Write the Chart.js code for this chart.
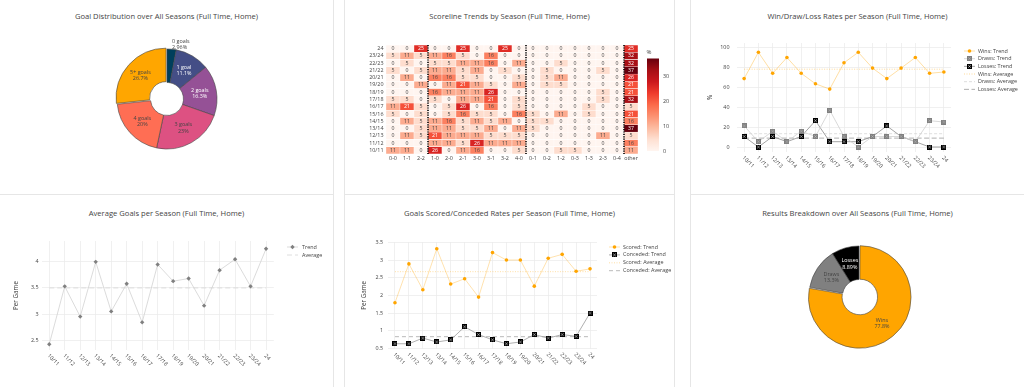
<!DOCTYPE html>
<html>
<head>
<meta charset="utf-8">
<script src="https://cdn.jsdelivr.net/npm/chart.js@4.4.1/dist/chart.umd.min.js"></script>
<style>
  body { margin: 0; background: #fff; font-family: "Open Sans", sans-serif; }
  #page { position: relative; width: 1024px; height: 387px; overflow: hidden; }
  .card { position: absolute; border: 1px solid #e6e6e6; box-sizing: border-box; }
  .ttl { position: absolute; text-align: center; font-size: 7.6px; line-height: 10px; color: #444; white-space: nowrap; }
  canvas { position: absolute; }
</style>
</head>
<body>
<div id="page">
  <div class="card" style="left:-1px;top:-1px;width:335px;height:196px"></div>
  <div class="card" style="left:344px;top:-1px;width:331px;height:196px"></div>
  <div class="card" style="left:690px;top:-1px;width:336px;height:196px"></div>
  <div class="card" style="left:-1px;top:194px;width:335px;height:195px"></div>
  <div class="card" style="left:344px;top:194px;width:331px;height:195px"></div>
  <div class="card" style="left:690px;top:194px;width:336px;height:195px"></div>

  <div class="ttl" style="left:0;width:333px;top:11px">Goal Distribution over All Seasons (Full Time, Home)</div>
  <div class="ttl" style="left:345px;width:329px;top:11px">Scoreline Trends by Season (Full Time, Home)</div>
  <div class="ttl" style="left:691px;width:333px;top:11px">Win/Draw/Loss Rates per Season (Full Time, Home)</div>
  <div class="ttl" style="left:0;width:333px;top:208px">Average Goals per Season (Full Time, Home)</div>
  <div class="ttl" style="left:345px;width:329px;top:208px">Goals Scored/Conceded Rates per Season (Full Time, Home)</div>
  <div class="ttl" style="left:691px;width:333px;top:208px">Results Breakdown over All Seasons (Full Time, Home)</div>

  <canvas id="goalPie" width="333" height="193" style="left:0;top:0"></canvas>
  <canvas id="scoreHeat" width="329" height="193" style="left:345px;top:0"></canvas>
  <canvas id="wdlChart" width="333" height="193" style="left:691px;top:0"></canvas>
  <canvas id="avgChart" width="333" height="192" style="left:0;top:195px"></canvas>
  <canvas id="gsgcChart" width="329" height="192" style="left:345px;top:195px"></canvas>
  <canvas id="resultPie" width="333" height="192" style="left:691px;top:195px"></canvas>
</div>

<script>
// === Data ===
const seasons = ['10/11', '11/12', '12/13', '13/14', '14/15', '15/16', '16/17', '17/18',
                 '18/19', '19/20', '20/21', '21/22', '22/23', '23/24', '24'];

const goalLabels = ['0 goals', '1 goal', '2 goals', '3 goals', '4 goals', '5+ goals'];
const goalCounts = [8, 30, 44, 62, 54, 72];

const resultLabels = ['Wins', 'Draws', 'Losses'];
const resultCounts = [210, 36, 24];

const winPct  = [68.4, 94.7, 73.7, 89.5, 73.7, 63.2, 57.9, 84.2, 94.7, 78.9, 68.4, 78.9, 89.5, 73.7, 75];
const drawPct = [21.1, 5.3, 15.8, 5.3, 15.8, 10.5, 36.8, 10.5, 0, 10.5, 10.5, 10.5, 5.3, 26.3, 25];
const lossPct = [10.5, 0, 10.5, 5.3, 10.5, 26.3, 5.3, 5.3, 5.3, 10.5, 21.1, 10.5, 5.3, 0, 0];
const winAvg = 77.8, drawAvg = 13.3, lossAvg = 8.89;

const avgGoals = [2.42, 3.53, 2.95, 4.0, 3.05, 3.58, 2.84, 3.95, 3.63, 3.68, 3.16, 3.84, 4.05, 3.53, 4.25];
const avgGoalsMean = 3.5;

const scored   = [1.79, 2.89, 2.16, 3.32, 2.32, 2.47, 1.95, 3.21, 3.0, 3.0, 2.26, 3.05, 3.16, 2.68, 2.75];
const conceded = [0.63, 0.63, 0.79, 0.68, 0.74, 1.11, 0.89, 0.74, 0.63, 0.68, 0.89, 0.79, 0.89, 0.84, 1.5];
const scoredAvg = 2.67, concededAvg = 0.83;

const scoreCols = ['0-0', '1-1', '2-2', '1-0', '2-0', '2-1', '3-0', '3-1', '3-2', '4-0',
                   '0-1', '0-2', '1-2', '0-3', '1-3', '2-3', '0-4', 'other'];
// % of home games per scoreline, one row per season (same order as seasons)
const scorePct = [
  [11, 11, 0, 26, 0, 11, 16, 0, 0, 5, 0, 0, 5, 5, 0, 0, 0, 11],
  [0, 0, 0, 11, 11, 5, 26, 11, 11, 11, 0, 0, 0, 0, 0, 0, 0, 16],
  [0, 11, 5, 21, 11, 11, 11, 5, 5, 5, 0, 0, 0, 0, 0, 11, 0, 5],
  [0, 0, 5, 11, 11, 5, 5, 11, 0, 11, 5, 0, 0, 0, 0, 0, 0, 37],
  [0, 11, 5, 11, 16, 5, 11, 5, 11, 0, 5, 5, 0, 0, 0, 0, 0, 16],
  [5, 0, 5, 0, 5, 16, 5, 5, 0, 16, 5, 0, 11, 0, 5, 0, 0, 21],
  [11, 21, 5, 0, 5, 26, 0, 16, 0, 5, 0, 0, 0, 0, 5, 0, 0, 5],
  [5, 5, 0, 5, 0, 11, 11, 21, 0, 5, 0, 0, 0, 0, 0, 5, 0, 32],
  [0, 0, 0, 16, 11, 11, 11, 26, 0, 0, 0, 0, 0, 0, 0, 5, 0, 21],
  [0, 0, 11, 0, 11, 21, 11, 5, 0, 11, 0, 5, 5, 0, 0, 0, 0, 21],
  [0, 11, 0, 16, 16, 5, 5, 0, 0, 5, 0, 5, 11, 0, 0, 0, 0, 26],
  [5, 0, 5, 11, 11, 5, 11, 0, 5, 0, 0, 5, 0, 0, 0, 5, 0, 37],
  [0, 5, 0, 5, 5, 11, 11, 16, 0, 11, 0, 0, 5, 0, 0, 0, 0, 32],
  [5, 11, 5, 11, 16, 5, 0, 16, 0, 0, 0, 0, 0, 0, 0, 0, 0, 32],
  [0, 0, 25, 0, 0, 25, 0, 0, 25, 0, 0, 0, 0, 0, 0, 0, 0, 25]
];
const colorbarTicks = [0, 10, 20, 30];
const groupBreaks = [2, 9, 16];   // dotted line after these columns

// === Styles ===
const FONT = '"Open Sans", sans-serif';
const TXT = '#444';
const GRID = '#ececec';
const goalColors = ['#003f5c', '#444e86', '#955196', '#dd5182', '#ff6e54', '#ffa600'];
const resultColors = ['#ffa500', '#808080', '#000000'];
const reds = ['#fff5f0', '#fee0d2', '#fcbba1', '#fc9272', '#fb6a4a', '#ef3b2c', '#cb181d', '#a50f15', '#67000d'];
const zMax = Math.max(...scorePct.flat());

Chart.defaults.font.family = FONT;
Chart.defaults.color = TXT;

function hexRgb(h) { const n = parseInt(h.slice(1), 16); return [n >> 16, (n >> 8) & 255, n & 255]; }
function redRgb(v) {
  const t = Math.max(0, Math.min(1, v / zMax)) * (reds.length - 1);
  const i = Math.min(Math.floor(t), reds.length - 2), f = t - i;
  const a = hexRgb(reds[i]), b = hexRgb(reds[i + 1]);
  return a.map((x, k) => Math.round(x + (b[k] - x) * f));
}
const rgbStr = c => `rgb(${c[0]},${c[1]},${c[2]})`;
const isDark = c => (c[0] * 299 + c[1] * 587 + c[2] * 114) / 1000 < 128;

// square marker with a thin x through it
function squareX(fill, cross, size) {
  const c = document.createElement('canvas');
  c.width = c.height = size;
  const g = c.getContext('2d');
  g.fillStyle = fill; g.fillRect(0, 0, size, size);
  g.strokeStyle = cross; g.lineWidth = 0.6;
  g.beginPath();
  g.moveTo(1.2, 1.2); g.lineTo(size - 1.2, size - 1.2);
  g.moveTo(size - 1.2, 1.2); g.lineTo(1.2, size - 1.2);
  g.stroke();
  return c;
}
const lossMark = squareX('#000', '#fff', 5);
const drawMark = squareX('#808080', '#bdbdbd', 5);

// === Plugins ===
const sideLegend = {
  id: 'sideLegend',
  afterDraw(chart, args, opts) {
    if (!opts || opts.x == null) return;
    const ctx = chart.ctx;
    chart.data.datasets.forEach((ds, i) => {
      const y = opts.y + i * opts.step;
      ctx.save();
      ctx.strokeStyle = ds.borderColor;
      ctx.lineWidth = ds.borderWidth || 1;
      ctx.setLineDash(ds.borderDash || []);
      ctx.beginPath(); ctx.moveTo(opts.x, y); ctx.lineTo(opts.x + opts.len, y); ctx.stroke();
      ctx.setLineDash([]);
      const mx = opts.x + opts.len / 2;
      if (ds.pointStyle instanceof HTMLCanvasElement) {
        ctx.drawImage(ds.pointStyle, mx - ds.pointStyle.width / 2, y - ds.pointStyle.height / 2);
      } else if (ds.pointRadius) {
        ctx.fillStyle = ds.pointBackgroundColor;
        ctx.strokeStyle = ds.pointBackgroundColor;
        Chart.helpers.drawPoint(ctx, { pointStyle: ds.pointStyle || 'circle', radius: ds.pointRadius, rotation: 0, borderWidth: 0 }, mx, y);
      }
      ctx.fillStyle = TXT;
      ctx.font = '5.4px ' + FONT;
      ctx.textBaseline = 'middle';
      ctx.textAlign = 'left';
      ctx.fillText(ds.label, opts.x + opts.len + opts.gap, y);
      ctx.restore();
    });
  }
};

const slantTicks = {
  id: 'slantTicks',
  afterDraw(chart, args, opts) {
    if (!opts || !opts.on) return;
    const sx = chart.scales.x, ctx = chart.ctx;
    ctx.save();
    ctx.font = '5.4px ' + FONT;
    ctx.fillStyle = TXT;
    ctx.textBaseline = 'middle';
    ctx.textAlign = 'left';
    chart.data.labels.forEach((lab, i) => {
      ctx.save();
      ctx.translate(sx.getPixelForValue(i) + opts.dx, chart.chartArea.bottom + opts.dy);
      ctx.rotate(Math.PI / 4);
      ctx.fillText(lab, 0, 0);
      ctx.restore();
    });
    ctx.restore();
  }
};

const arcText = {
  id: 'arcText',
  afterDatasetsDraw(chart, args, opts) {
    if (!opts || !opts.on) return;
    const ctx = chart.ctx, ds = chart.data.datasets[0];
    const total = ds.data.reduce((a, b) => a + b, 0);
    chart.getDatasetMeta(0).data.forEach((arc, i) => {
      const share = ds.data[i] / total;
      const lines = [chart.data.labels[i], parseFloat((share * 100).toPrecision(3)) + '%'];
      let { x, y } = arc.tooltipPosition();
      let align = 'center';
      let color = isDark(hexRgb(ds.backgroundColor[i])) ? '#fff' : TXT;
      if (share < 0.05) {
        const a = (arc.startAngle + arc.endAngle) / 2;
        x = arc.x + Math.cos(a) * (arc.outerRadius + 4);
        y = arc.y + Math.sin(a) * (arc.outerRadius + 4) - 1;
        align = Math.cos(a) >= 0 ? 'left' : 'right';
        color = TXT;
      }
      ctx.save();
      ctx.font = '5.4px ' + FONT;
      ctx.fillStyle = color;
      ctx.textAlign = align;
      ctx.textBaseline = 'middle';
      ctx.fillText(lines[0], x, y - 3.1);
      ctx.fillText(lines[1], x, y + 3.1);
      ctx.restore();
    });
  }
};

Chart.register(sideLegend, slantTicks, arcText);

// === Doughnuts ===
function pieOptions(pad) {
  return {
    responsive: false, animation: false,
    radius: 50, cutout: '33%',
    layout: { padding: pad },
    plugins: { legend: { display: false }, tooltip: { enabled: false }, arcText: { on: true } }
  };
}

new Chart(document.getElementById('goalPie'), {
  type: 'doughnut',
  data: {
    labels: goalLabels,
    datasets: [{
      data: goalCounts, backgroundColor: goalColors,
      borderColor: '#444', borderWidth: 0.6,
      offset: [0, 0, 0, 0, 0, 5]
    }]
  },
  options: pieOptions({ left: 107, right: 106, top: 39, bottom: 34 })
});

new Chart(document.getElementById('resultPie'), {
  type: 'doughnut',
  data: {
    labels: resultLabels,
    datasets: [{
      data: resultCounts, backgroundColor: resultColors,
      borderColor: '#444', borderWidth: 0.6,
      offset: [5, 0, 0]
    }]
  },
  options: pieOptions({ left: 108, right: 105, top: 41, bottom: 31 })
});

// === Heatmap ===
const heatDeco = {
  id: 'heatDeco',
  afterDatasetsDraw(chart) {
    const ctx = chart.ctx, sx = chart.scales.x, area = chart.chartArea;
    // cell values
    ctx.save();
    ctx.font = '5.2px ' + FONT;
    ctx.textAlign = 'center';
    ctx.textBaseline = 'middle';
    chart.data.datasets.forEach((ds, r) => {
      chart.getDatasetMeta(r).data.forEach((bar, c) => {
        const v = scorePct[r][c];
        ctx.fillStyle = isDark(redRgb(v)) ? '#fff' : TXT;
        ctx.fillText(String(v), bar.x, (bar.y + bar.base) / 2);
      });
    });
    // group separators
    ctx.strokeStyle = '#000';
    ctx.lineWidth = 1.6;
    ctx.setLineDash([1.2, 1.2]);
    groupBreaks.forEach(k => {
      const x = (sx.getPixelForValue(k) + sx.getPixelForValue(k + 1)) / 2;
      ctx.beginPath(); ctx.moveTo(x, area.top); ctx.lineTo(x, area.bottom); ctx.stroke();
    });
    ctx.restore();
  },
  afterDraw(chart, args, opts) {
    const ctx = chart.ctx;
    const { x, w, top, bottom } = opts;
    const g = ctx.createLinearGradient(0, bottom, 0, top);
    reds.forEach((c, i) => g.addColorStop(i / (reds.length - 1), c));
    ctx.save();
    ctx.fillStyle = g;
    ctx.fillRect(x, top, w, bottom - top);
    ctx.fillStyle = TXT;
    ctx.font = '5.4px ' + FONT;
    ctx.textBaseline = 'middle';
    ctx.textAlign = 'left';
    colorbarTicks.forEach(t => {
      ctx.fillText(String(t), x + w + 4, bottom - (bottom - top) * t / zMax);
    });
    ctx.font = '6px ' + FONT;
    ctx.textAlign = 'center';
    ctx.fillText('%', x + 2, top - 6);
    ctx.restore();
  }
};

new Chart(document.getElementById('scoreHeat'), {
  type: 'bar',
  data: {
    labels: scoreCols,
    datasets: seasons.map((s, r) => ({
      label: s,
      data: scoreCols.map(() => 1),
      backgroundColor: scorePct[r].map(v => rgbStr(redRgb(v))),
      borderColor: '#fff', borderWidth: 0.5, borderSkipped: false,
      barPercentage: 1, categoryPercentage: 1
    }))
  },
  options: {
    responsive: false, animation: false,
    layout: { padding: { left: 0, right: 36, top: 45, bottom: 0 } },
    plugins: {
      legend: { display: false }, tooltip: { enabled: false },
      heatDeco: { x: 302, w: 12, top: 58.5, bottom: 151 }
    },
    scales: {
      x: {
        stacked: true,
        grid: { display: false, drawTicks: false }, border: { display: false },
        ticks: { padding: 1.5, maxRotation: 0, autoSkip: false, font: { size: 5.4 } },
        afterFit: s => { s.height = 39; }
      },
      y: {
        stacked: true, min: 0, max: seasons.length,
        grid: { display: false, drawTicks: false }, border: { display: false },
        afterBuildTicks: ax => { ax.ticks = seasons.map((s, i) => ({ value: i + 0.5 })); },
        ticks: { padding: 2.5, autoSkip: false, font: { size: 5.4 }, callback: (v, i) => seasons[i] },
        afterFit: s => { s.width = 41; }
      }
    }
  },
  plugins: [heatDeco]
});

// === Line charts ===
function lineOptions(o) {
  return {
    responsive: false, animation: false,
    layout: { padding: { left: 0, right: o.right, top: o.top, bottom: 0 } },
    plugins: {
      legend: { display: false }, tooltip: { enabled: false },
      sideLegend: o.legend,
      slantTicks: { on: true, dx: -1, dy: 5 }
    },
    scales: {
      x: {
        offset: true,
        grid: { color: GRID, lineWidth: 0.8, drawTicks: false }, border: { display: false },
        ticks: { display: false },
        afterFit: s => { s.height = o.bottom; }
      },
      y: {
        min: o.min, max: o.max,
        grid: { color: GRID, lineWidth: 0.8, drawTicks: false }, border: { display: false },
        ticks: { stepSize: o.step, includeBounds: false, padding: o.pad, font: { size: 5.4 },
                 callback: v => String(+v.toFixed(2)) },
        title: { display: true, text: o.yTitle, font: { size: 6.3 }, padding: { top: o.titlePad, bottom: 0 } },
        afterFit: s => { s.width = o.left; }
      }
    }
  };
}

const first = seasons[0], last = seasons[seasons.length - 1];
const avgLine = v => [{ x: first, y: v }, { x: last, y: v }];

new Chart(document.getElementById('wdlChart'), {
  type: 'line',
  data: {
    labels: seasons,
    datasets: [
      { label: 'Wins: Trend', data: winPct, borderColor: 'rgba(255,165,0,0.45)', borderWidth: 0.8,
        pointRadius: 1.8, pointBackgroundColor: '#ffa500', pointBorderWidth: 0 },
      { label: 'Draws: Trend', data: drawPct, borderColor: '#cfcfcf', borderWidth: 0.8,
        pointStyle: drawMark, pointRadius: 2 },
      { label: 'Losses: Trend', data: lossPct, borderColor: '#8c8c8c', borderWidth: 0.8,
        pointStyle: lossMark, pointRadius: 2 },
      { label: 'Wins: Average', data: avgLine(winAvg), borderColor: 'rgba(255,165,0,0.5)', borderWidth: 0.8,
        borderDash: [1, 1.5], pointRadius: 0 },
      { label: 'Draws: Average', data: avgLine(drawAvg), borderColor: '#d6d6d6', borderWidth: 0.8,
        borderDash: [3, 2], pointRadius: 0 },
      { label: 'Losses: Average', data: avgLine(lossAvg), borderColor: '#9a9a9a', borderWidth: 0.8,
        borderDash: [5, 2.5], pointRadius: 0 }
    ]
  },
  options: lineOptions({
    left: 46, right: 73, top: 43, bottom: 41, min: -5, max: 104, step: 20, pad: 7.5,
    yTitle: '%', titlePad: 15,
    legend: { x: 273, y: 51, step: 7.67, len: 11, gap: 3 }
  })
});

new Chart(document.getElementById('avgChart'), {
  type: 'line',
  data: {
    labels: seasons,
    datasets: [
      { label: 'Trend', data: avgGoals, borderColor: '#d2d2d2', borderWidth: 0.8,
        pointStyle: 'rectRot', pointRadius: 2.2, pointBackgroundColor: '#808080', pointBorderWidth: 0 },
      { label: 'Average', data: avgLine(avgGoalsMean), borderColor: '#d6d6d6', borderWidth: 0.8,
        borderDash: [5, 3], pointRadius: 0 }
    ]
  },
  options: lineOptions({
    left: 41.5, right: 59.2, top: 46, bottom: 37, min: 2.31, max: 4.4, step: 0.5, pad: 3,
    yTitle: 'Per Game', titlePad: 12,
    legend: { x: 287, y: 52, step: 8, len: 11, gap: 4 }
  })
});

new Chart(document.getElementById('gsgcChart'), {
  type: 'line',
  data: {
    labels: seasons,
    datasets: [
      { label: 'Scored: Trend', data: scored, borderColor: 'rgba(255,165,0,0.4)', borderWidth: 0.8,
        pointRadius: 1.8, pointBackgroundColor: '#ffa500', pointBorderWidth: 0 },
      { label: 'Conceded: Trend', data: conceded, borderColor: '#9a9a9a', borderWidth: 0.8,
        pointStyle: lossMark, pointRadius: 2 },
      { label: 'Scored: Average', data: avgLine(scoredAvg), borderColor: 'rgba(255,165,0,0.45)', borderWidth: 0.8,
        borderDash: [1, 1.5], pointRadius: 0 },
      { label: 'Conceded: Average', data: avgLine(concededAvg), borderColor: '#a8a8a8', borderWidth: 0.8,
        borderDash: [4, 3], pointRadius: 0 }
    ]
  },
  options: lineOptions({
    left: 43, right: 77, top: 47, bottom: 38.3, min: 0.49, max: 3.51, step: 0.5, pad: 5,
    yTitle: 'Per Game', titlePad: 15,
    legend: { x: 264, y: 52, step: 7.9, len: 11, gap: 3 }
  })
});
</script>
</body>
</html>
